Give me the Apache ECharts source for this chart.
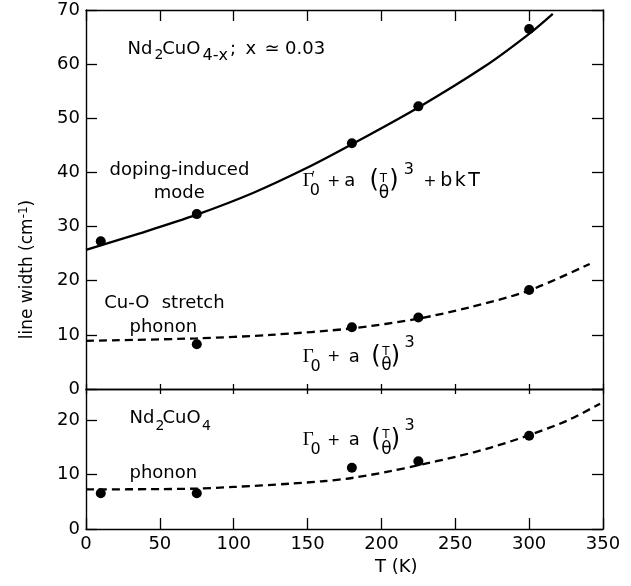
<!DOCTYPE html>
<html><head><meta charset="utf-8">
<script src="https://cdn.jsdelivr.net/npm/echarts@6/dist/echarts.min.js"></script>
<style>html,body{margin:0;padding:0;background:#fff}#c{width:631px;height:586px}</style>
</head><body><div id="c"></div>
<script>
// ---- data ----
const xTicks = [0, 50, 100, 150, 200, 250, 300, 350];
const topYTicks = [0, 10, 20, 30, 40, 50, 60, 70];
const bottomYTicks = [0, 10, 20];
const bottomYMax = 25.8;

// doping-induced mode (Nd2CuO4-x)
const dopeT = [10, 75, 180, 225, 300];
const dopeW = [27.3, 32.3, 45.4, 52.2, 66.5];
const dopeFitT = [0, 37, 75, 113, 150, 180, 225, 270, 300, 316];
const dopeFitW = [25.7, 28.8, 32.2, 36.2, 40.9, 45.2, 52.0, 59.6, 65.6, 69.3];

// Cu-O stretch phonon (Nd2CuO4-x)
const stretchT = [75, 180, 225, 300];
const stretchW = [8.25, 11.4, 13.2, 18.3];
const stretchFitT = [0, 75, 125, 180, 225, 260, 300, 341];
const stretchFitW = [8.9, 9.35, 10.0, 11.2, 13.0, 15.1, 18.2, 23.1];

// phonon (Nd2CuO4)
const phononT = [10, 75, 180, 225, 300];
const phononW = [6.6, 6.6, 11.3, 12.5, 17.2];
const phononFitT = [0, 50, 75, 100, 138, 160, 180, 206, 225, 251, 274, 300, 326, 348];
const phononFitW = [7.3, 7.35, 7.45, 7.75, 8.35, 8.8, 9.4, 10.65, 11.75, 13.35, 15.0, 17.3, 20.0, 23.1];

// ---- chart ----
const FONT = '"DejaVu Sans", sans-serif';
const SERIF = '"Liberation Serif", serif';
const pairs = (a, b) => a.map((v, i) => [v, b[i]]);
const chart = echarts.init(document.getElementById('c'), null, {renderer: 'canvas'});

function xAx(gi, pos, tickLen, labels) {
  return {
    type: 'value', gridIndex: gi, position: pos,
    min: xTicks[0], max: xTicks[xTicks.length - 1], interval: xTicks[1] - xTicks[0],
    axisLine: {show: true, onZero: false, lineStyle: {color: '#000', width: 1.4}},
    axisTick: {show: true, inside: true, length: tickLen, lineStyle: {color: '#000', width: 1.3}},
    axisLabel: {show: labels, color: '#000', fontSize: 18, fontFamily: FONT, margin: 6},
    splitLine: {show: false}
  };
}
function yAx(gi, pos, ticks, max, labels) {
  return {
    type: 'value', gridIndex: gi, position: pos,
    min: ticks[0], max: max, interval: ticks[1] - ticks[0],
    axisLine: {show: true, onZero: false, lineStyle: {color: '#000', width: 1.4}},
    axisTick: {show: true, inside: true, length: 11, lineStyle: {color: '#000', width: 1.3}},
    axisLabel: {show: labels, color: '#000', fontSize: 18, fontFamily: FONT, margin: 6,
      showMaxLabel: max === ticks[ticks.length - 1]},
    splitLine: {show: false}
  };
}

function T(x, base, s, fs, fam) {
  fam = fam || FONT;
  return {type: 'text', x: x, y: base - 0.346 * fs, silent: true,
    style: {text: s, font: fs + 'px ' + fam, fill: '#000', align: 'left', verticalAlign: 'middle'}};
}
function TC(x, base, s, fs) {
  const e = T(x, base, s, fs); e.style.align = 'center'; return e;
}
// o: x offsets for pieces, fy: vertical shift of fraction / exponent
function formula(x0, yb, o, fy, prime, bkt) {
  const e = [];
  e.push(T(x0, yb, 'Γ', 19, SERIF));
  if (prime) e.push(T(x0 + 9, yb - 5, '′', 15, SERIF));
  e.push(T(x0 + o.sub, yb + 8.6, '0', 16));
  e.push(T(x0 + o.plus, yb - 0.5, '+', 15.5));
  e.push(T(x0 + o.a, yb, 'a', 18));
  e.push(T(x0 + o.lp, yb + 1.8, '(', 24));
  e.push(T(x0 + o.fr, yb - 7.5 + fy, 'T', 12));
  e.push(T(x0 + o.fr - 1, yb + 8.4 + fy, 'θ', 17));
  e.push(T(x0 + o.rp, yb + 1.8, ')', 24));
  e.push(T(x0 + o.exp, yb - 15 + fy, '3', 16));
  if (bkt) {
    e.push(T(x0 + 120.8, yb - 0.5, '+', 15.5));
    e.push(T(x0 + 137.5, yb, 'b', 19));
    e.push(T(x0 + 152, yb, 'k', 19));
    e.push(T(x0 + 165.5, yb, 'T', 19));
  }
  return e;
}
const offs1 = {sub: 7, plus: 24.5, a: 41.5, lp: 66.8, fr: 77, rp: 86.5, exp: 101};
const offs2 = {sub: 7.8, plus: 24.5, a: 46, lp: 68.5, fr: 79.5, rp: 88, exp: 101.8};

const graphics = [].concat(
  [
    T(127.5, 55.7, 'Nd', 18), T(154.5, 60.5, '2', 14), T(162.3, 55.7, 'CuO', 18),
    T(202.5, 61.5, '4-x', 16), T(230, 55.7, ';', 18), T(245.5, 55.7, 'x', 18),
    T(264.5, 55.7, '≃', 18), T(285, 55.7, '0.03', 18),
    TC(179.4, 176.7, 'doping-induced', 18), TC(179.3, 199.3, 'mode', 18),
    T(104.3, 310, 'Cu-O', 18), T(161.7, 310, 'stretch', 18),
    T(129.5, 333.3, 'phonon', 18),
    T(129.5, 425, 'Nd', 18), T(155.5, 431.7, '2', 14), T(162.5, 425, 'CuO', 18), T(202, 431.7, '4', 14),
    T(129.5, 480, 'phonon', 18),
    T(375, 573.3, 'T (K)', 18),
    {type: 'text', x: 28, y: 269.5, rotation: Math.PI / 2, silent: true,
      style: {text: '{a|line width (cm}{s|-1}{a|)}', align: 'center', verticalAlign: 'middle',
        rich: {a: {font: '17px ' + FONT, fill: '#000'},
               s: {font: '12px ' + FONT, fill: '#000', padding: [0, 0, 8, 0]}}}}
  ],
  formula(302.7, 187.7, offs1, 3, true, true),
  formula(302.7, 363.3, offs2, 0, false, false),
  formula(302.7, 446.7, offs2, 0, false, false)
);

const dash = [8, 5];
const dot = {color: '#000', opacity: 1};
chart.setOption({
  backgroundColor: '#fff',
  animation: false,
  grid: [
    {left: 86, right: 28, top: 10, height: 379, outerBoundsMode: 'none', containLabel: false},
    {left: 86, right: 28, top: 389, height: 140, outerBoundsMode: 'none', containLabel: false}
  ],
  xAxis: [
    xAx(0, 'bottom', 5, false),
    xAx(0, 'top', 11, false),
    xAx(1, 'bottom', 11, true),
    xAx(1, 'top', 5, false)
  ],
  yAxis: [
    yAx(0, 'left', topYTicks, topYTicks[topYTicks.length - 1], true),
    yAx(0, 'right', topYTicks, topYTicks[topYTicks.length - 1], false),
    yAx(1, 'left', bottomYTicks, bottomYMax, true),
    yAx(1, 'right', bottomYTicks, bottomYMax, false)
  ],
  series: [
    {type: 'line', xAxisIndex: 0, yAxisIndex: 0, data: pairs(dopeFitT, dopeFitW), smooth: 0.3,
      showSymbol: false, lineStyle: {color: '#000', width: 2.3}, z: 2},
    {type: 'line', xAxisIndex: 0, yAxisIndex: 0, data: pairs(stretchFitT, stretchFitW), smooth: 0.3,
      showSymbol: false, lineStyle: {color: '#000', width: 2.3, type: dash}, z: 2},
    {type: 'line', xAxisIndex: 2, yAxisIndex: 2, data: pairs(phononFitT, phononFitW), smooth: 0.3,
      showSymbol: false, lineStyle: {color: '#000', width: 2.3, type: dash}, z: 2},
    {type: 'scatter', xAxisIndex: 0, yAxisIndex: 0, data: pairs(dopeT, dopeW), symbolSize: 10,
      itemStyle: dot, z: 3},
    {type: 'scatter', xAxisIndex: 0, yAxisIndex: 0, data: pairs(stretchT, stretchW), symbolSize: 10,
      itemStyle: dot, z: 3},
    {type: 'scatter', xAxisIndex: 2, yAxisIndex: 2, data: pairs(phononT, phononW), symbolSize: 10,
      itemStyle: dot, z: 3}
  ],
  graphic: graphics
});
</script></body></html>
